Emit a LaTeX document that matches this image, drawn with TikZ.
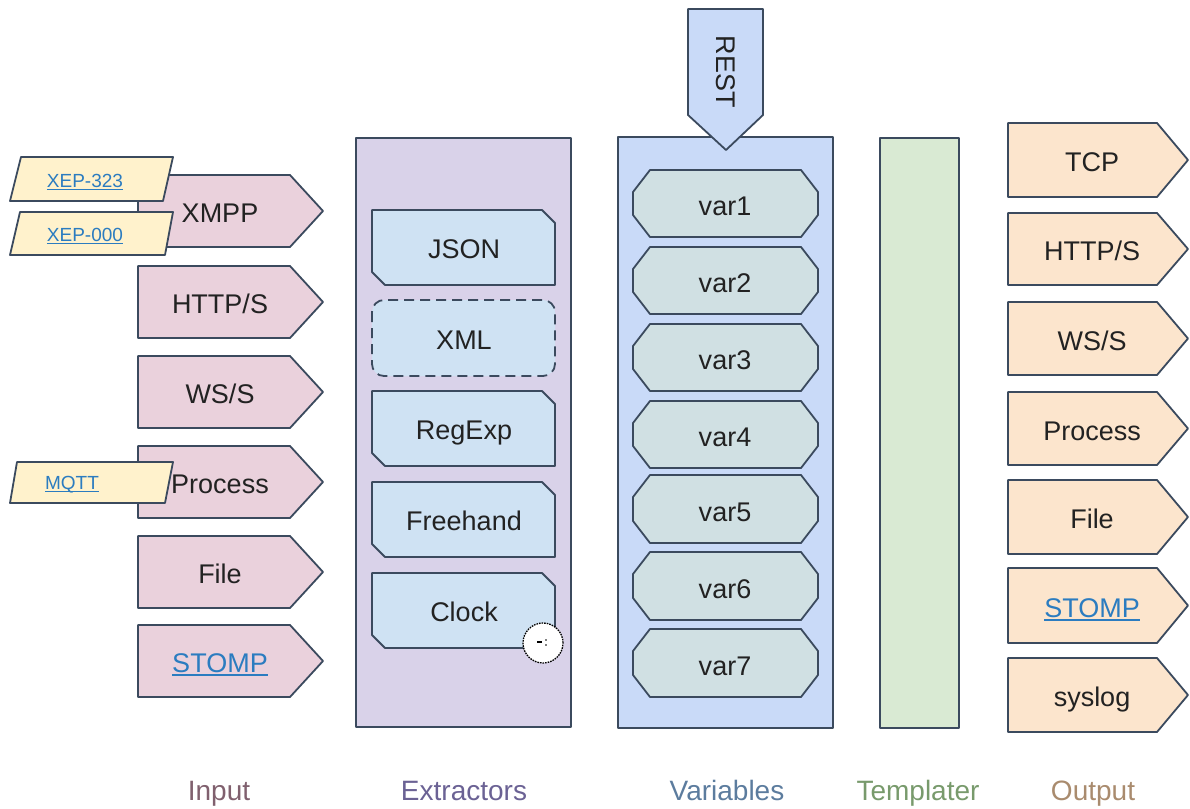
\documentclass[tikz,border=0pt]{standalone}
\usepackage{fontspec}
\setmainfont{Liberation Sans}
\definecolor{edge}{HTML}{3B4A5E}
\definecolor{infill}{HTML}{EAD1DC}
\definecolor{outfill}{HTML}{FCE5CD}
\definecolor{extpanel}{HTML}{D9D2E9}
\definecolor{extfill}{HTML}{CFE2F3}
\definecolor{varpanel}{HTML}{C9DAF8}
\definecolor{varfill}{HTML}{D0E0E3}
\definecolor{tplfill}{HTML}{D9EAD3}
\definecolor{tagfill}{HTML}{FFF2CC}
\definecolor{linkblue}{HTML}{2B7CC0}
\definecolor{ink}{HTML}{222222}
\definecolor{cInput}{HTML}{80606E}
\definecolor{cExtr}{HTML}{6B6294}
\definecolor{cVars}{HTML}{5C7C9E}
\definecolor{cTpl}{HTML}{789A6C}
\definecolor{cOut}{HTML}{A98B6E}
% right-pointing pentagon: fill, left, shoulder, tip, top, bottom
\newcommand{\sigRight}[6]{%
  \path[box, fill=#1] (#2,#5) -- (#3,#5) -- (#4,{(#5+#6)/2}) -- (#3,#6) -- (#2,#6) -- cycle;}
% snipped rectangle: left, right, top, bottom
\newcommand{\snipBox}[4]{%
  \path[box, fill=extfill] (#1,#3) -- ({#2-13},#3) -- (#2,{#3+13}) -- (#2,#4) -- ({#1+13},#4) -- (#1,{#4-13}) -- cycle;}
% octagon for variables: top, bottom
\newcommand{\octBox}[2]{%
  \path[box, fill=varfill] (650,#1) -- (801,#1) -- (818,{#1+22}) -- (818,{#2-22}) -- (801,#2) -- (650,#2) -- (633,{#2-22}) -- (633,{#1+22}) -- cycle;}
\begin{document}
\begin{tikzpicture}[x=1pt,y=-1pt,
  box/.style={draw=edge, line width=1.8pt, line join=round},
  txt/.style={font=\fontsize{27}{30}\selectfont, text=ink, inner sep=0pt, anchor=base},
  lnk/.style={txt, text=linkblue},
  tagtxt/.style={font=\fontsize{19}{21}\selectfont, text=linkblue, inner sep=0pt, anchor=base},
  colcaption/.style={font=\fontsize{28}{32}\selectfont, inner sep=0pt, anchor=base},
  uline/.style={line width=1.4pt, draw=linkblue}]
\useasboundingbox (0,0) rectangle (1190,808);

% ---------- Input ----------
\sigRight{infill}{138}{290}{323}{175}{247}
\sigRight{infill}{138}{290}{323}{266}{338}
\sigRight{infill}{138}{290}{323}{356}{428}
\sigRight{infill}{138}{290}{323}{446}{518}
\sigRight{infill}{138}{290}{323}{536}{608}
\sigRight{infill}{138}{290}{323}{625}{697}
\node[txt] (inXMPP) at (220,222) {XMPP};
\node[txt] (inHTTP) at (220,313) {HTTP/S};
\node[txt] (inWS) at (220,403) {WS/S};
\node[txt] (inProc) at (220,493) {Process};
\node[txt] (inFile) at (220,583) {File};
\node[lnk] (inSTOMP) at (220,672) {STOMP};
\draw[uline] ([yshift=-3pt]inSTOMP.base west) -- ([yshift=-3pt]inSTOMP.base east);

% tags
\path[box, fill=tagfill] (21,157) -- (173,157) -- (163,201) -- (10,201) -- cycle;
\path[box, fill=tagfill] (20,212) -- (173,212) -- (165,255) -- (10,255) -- cycle;
\path[box, fill=tagfill] (17,462) -- (173,462) -- (165,503) -- (10,503) -- cycle;
\node[tagtxt] (xep323) at (85,187) {XEP-323};
\node[tagtxt] (xep000) at (85,241) {XEP-000};
\node[tagtxt] (mqtt) at (72,489) {MQTT};
\foreach \n in {xep323,xep000,mqtt}
  \draw[uline, line width=1pt] ([yshift=-2.5pt]\n.base west) -- ([yshift=-2.5pt]\n.base east);

% ---------- Extractors ----------
\path[box, fill=extpanel] (356,138) rectangle (571,727);
\snipBox{372}{555}{210}{285}
\path[box, fill=extfill, dash pattern=on 10pt off 6pt, rounded corners=12pt] (372,300) rectangle (555,376);
\snipBox{372}{555}{391}{466}
\snipBox{372}{555}{482}{557}
\snipBox{372}{555}{573}{648}
\node[txt] (exJSON) at (464,258) {JSON};
\node[txt] (exXML) at (464,349) {XML};
\node[txt] (exRE) at (464,439) {RegExp};
\node[txt] (exFree) at (464,530) {Freehand};
\node[txt] (exClock) at (464,621) {Clock};
\node[circle, minimum size=40pt, inner sep=0pt, fill=white, draw=black, line width=1.3pt,
      dash pattern=on 1.6pt off 1pt] (cursor) at (543,643) {};
\draw[black, line width=1.2pt] ([xshift=-6pt,yshift=1pt]cursor.center) -- ([xshift=-1pt,yshift=1pt]cursor.center);
\fill[black] ([xshift=3pt,yshift=-2pt]cursor.center) circle (0.8pt);
\fill[black] ([xshift=3pt,yshift=3pt]cursor.center) circle (0.8pt);

% ---------- Variables ----------
\path[box, fill=varpanel] (618,137) rectangle (833,728);
\path[box, fill=varpanel] (688,9) -- (763,9) -- (763,115) -- (726,150) -- (688,115) -- cycle;
\node[txt, anchor=center, rotate=-90] (rest) at (726,72) {REST};
\octBox{170}{237}
\octBox{247}{314}
\octBox{324}{391}
\octBox{401}{468}
\octBox{475}{543}
\octBox{552}{620}
\octBox{629}{697}
\node[txt] (v1) at (725,215) {var1};
\node[txt] (v2) at (725,292) {var2};
\node[txt] (v3) at (725,369) {var3};
\node[txt] (v4) at (725,446) {var4};
\node[txt] (v5) at (725,521) {var5};
\node[txt] (v6) at (725,598) {var6};
\node[txt] (v7) at (725,675) {var7};

% ---------- Templater ----------
\path[box, fill=tplfill] (880,138) rectangle (959,728);

% ---------- Output ----------
\sigRight{outfill}{1008}{1157}{1188}{123}{197}
\sigRight{outfill}{1008}{1157}{1188}{213}{285}
\sigRight{outfill}{1008}{1157}{1188}{302}{375}
\sigRight{outfill}{1008}{1157}{1188}{392}{465}
\sigRight{outfill}{1008}{1157}{1188}{480}{554}
\sigRight{outfill}{1008}{1157}{1188}{568}{643}
\sigRight{outfill}{1008}{1157}{1188}{658}{732}
\node[txt] (outTCP) at (1092,171) {TCP};
\node[txt] (outHTTP) at (1092,260) {HTTP/S};
\node[txt] (outWS) at (1092,350) {WS/S};
\node[txt] (outProc) at (1092,440) {Process};
\node[txt] (outFile) at (1092,528) {File};
\node[lnk] (outSTOMP) at (1092,617) {STOMP};
\draw[uline] ([yshift=-3pt]outSTOMP.base west) -- ([yshift=-3pt]outSTOMP.base east);
\node[txt] (outSys) at (1092,706) {syslog};

% ---------- Captions ----------
\node[colcaption, text=cInput] (capIn) at (219,800) {Input};
\node[colcaption, text=cExtr] (capEx) at (464,800) {Extractors};
\node[colcaption, text=cVars] (capVar) at (727,800) {Variables};
\node[colcaption, text=cTpl] (capTpl) at (918,800) {Templater};
\node[colcaption, text=cOut] (capOut) at (1093,800) {Output};
\end{tikzpicture}
\end{document}
